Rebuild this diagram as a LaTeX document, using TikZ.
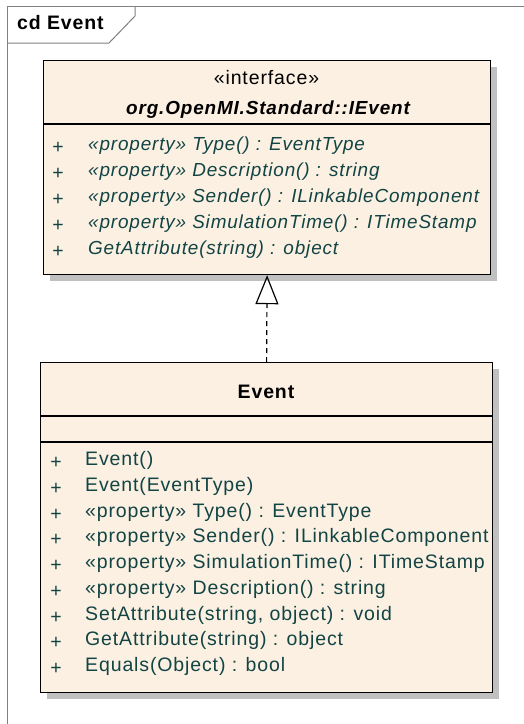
\documentclass[tikz,border=0pt]{standalone}
\usepackage{fontspec}
\setmainfont{Liberation Sans}[LetterSpace=4.5]
\usepackage{xcolor}
\usetikzlibrary{arrows.meta,positioning,shadows}

\definecolor{classfill}{RGB}{251,240,226}
\definecolor{optext}{RGB}{18,68,68}
\definecolor{framegray}{RGB}{128,128,128}
\definecolor{shadowgray}{RGB}{192,192,192}
\newcommand{\umlsize}{\fontsize{19.5}{22}\selectfont}
\newcommand{\umlitsize}{\fontsize{18.9}{22}\selectfont}

\tikzset{
  classbox/.style={draw=black, fill=classfill, line width=1.2pt, inner sep=0pt,
    drop shadow={shadow xshift=6pt, shadow yshift=-6pt, fill=shadowgray, opacity=1}},
  umlfont/.style={font=\umlsize, inner sep=0pt},
  plus/.style={umlfont, text=optext},
  member/.style={umlfont, text=optext, anchor=mid west},
}

\begin{document}
\begin{tikzpicture}[x=1pt,y=-1pt]
\useasboundingbox (0,0) rectangle (524,724);
\fill[white] (0,0) rectangle (524,724);

% diagram frame
\draw[framegray, line width=1pt] (7,724) -- (7,6) -- (524,6);
\draw[framegray, line width=1pt] (7,43) -- (109,43) -- (135,16) -- (135,6);
\node[umlfont, anchor=mid west, font=\umlsize\bfseries] (frametitle) at (17,27) {cd Event};

% interface
\node[classbox, anchor=north west, minimum width=447pt, minimum height=214pt] (ievent) at (43,60) {};
\draw[line width=1.2pt] (ievent.west |- 0,124) -- (ievent.east |- 0,124);
\node[umlfont] (istereo) at (266.5,78) {«interface»};
\node[umlfont, font=\umlitsize\bfseries\itshape] (iname) at (268,110) {org.OpenMI.Standard::IEvent};
\foreach \txt [count=\i] in {%
  {«property» Type() : EventType},
  {«property» Description() : string},
  {«property» Sender() : ILinkableComponent},
  {«property» SimulationTime() : ITimeStamp},
  {GetAttribute(string) : object}}{
  \node[plus] (iplus\i) at (58,{148+26*(\i-1)}) {+};
  \node[member, font=\umlitsize\itshape] (iop\i) at (88,{148+26*(\i-1)}) {\txt};
}

% class
\node[classbox, anchor=north west, minimum width=452pt, minimum height=330pt] (event) at (40,362) {};
\draw[line width=1.2pt] (event.west |- 0,416) -- (event.east |- 0,416);
\draw[line width=1.2pt] (event.west |- 0,442) -- (event.east |- 0,442);
\node[umlfont, font=\umlsize\bfseries] (ename) at (266,392) {Event};
\foreach \txt [count=\i] in {%
  {Event()},
  {Event(EventType)},
  {«property» Type() : EventType},
  {«property» Sender() : ILinkableComponent},
  {«property» SimulationTime() : ITimeStamp},
  {«property» Description() : string},
  {SetAttribute(string, object) : void},
  {GetAttribute(string) : object},
  {Equals(Object) : bool}}{
  \node[plus] (eplus\i) at (56,{463+25.75*(\i-1)}) {+};
  \node[member] (eop\i) at (85,{463+25.75*(\i-1)}) {\txt};
}

% realization
\draw[line width=1.2pt, dash pattern=on 5pt off 4pt,
  -{Triangle[open, length=29pt, width=23pt, line width=1.2pt]}] (event.north) -- (ievent.south);
\end{tikzpicture}
\end{document}
